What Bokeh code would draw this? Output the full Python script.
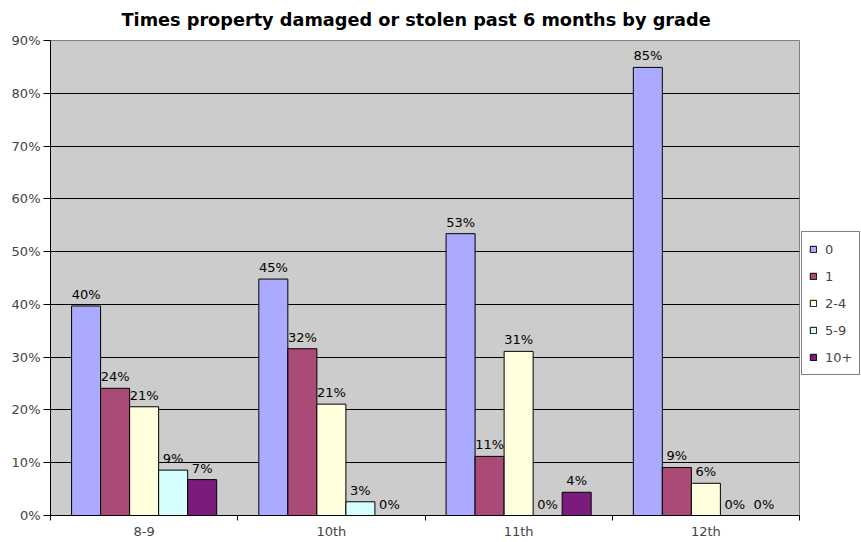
from bokeh.plotting import figure
from bokeh.models import (Range1d, FixedTicker, PrintfTickFormatter, Legend,
                          LegendItem, ColumnDataSource)
from bokeh.embed import file_html
from bokeh.resources import INLINE
from bokeh.core.properties import value

grades = ["8-9", "10th", "11th", "12th"]
series = ["0", "1", "2-4", "5-9", "10+"]
v0 = [39.7, 44.8, 53.4, 84.9]
v1 = [24.1, 31.6, 11.2, 9.1]
v2 = [20.6, 21.1, 31.1, 6.1]
v3 = [8.6, 2.6, 0.0, 0.0]
v4 = [6.8, 0.0, 4.4, 0.0]
values = [v0, v1, v2, v3, v4]
colors = ["#AAAAFF", "#AA4A77", "#FFFFDD", "#D5FFFF", "#7B1B7B"]
yticks = [0, 10, 20, 30, 40, 50, 60, 70, 80, 90]

FONT = "DejaVu Sans"
BW = 0.155

p = figure(frame_width=749, frame_height=475, output_backend="svg",
           toolbar_location=None, x_range=Range1d(0, len(grades)),
           y_range=Range1d(0, 90), min_border_left=50, min_border_right=62,
           min_border_top=40, min_border_bottom=26)
p.title.text = "Times property damaged or stolen past 6 months by grade"
p.title.align = "left"
p.title.offset = 71
p.title.vertical_align = "top"
p.title.standoff = 18
p.title.text_font = FONT
p.title.text_font_size = "17.7px"
p.title.text_font_style = "bold"
p.title.text_color = "#000000"

p.background_fill_color = "#CCCCCC"
p.border_fill_color = "white"
p.outline_line_color = "#808080"

items = []
for k, (name, vals, col) in enumerate(zip(series, values, colors)):
    xs = [i + 0.5 + (k - 2) * BW for i in range(len(grades))]
    src = ColumnDataSource(dict(x=xs, top=vals,
                                lab=[f"{v:.0f}%" for v in vals]))
    r = p.vbar(x="x", top="top", width=BW, source=src, fill_color=col,
               line_color="#000000", line_width=1)
    p.text(x="x", y="top", text="lab", source=src, text_align="center",
           text_baseline="bottom", y_offset=-4, text_font=value(FONT),
           text_font_size="13px", text_color="#000000")
    items.append(LegendItem(label=name, renderers=[r]))

legend = Legend(items=items, location=(2, 140), orientation="vertical",
                label_text_font=FONT, label_text_font_size="13px",
                glyph_width=8, glyph_height=8, label_height=20, spacing=7,
                padding=7, margin=0, label_width=27, label_standoff=8,
                border_line_color="#000000", background_fill_color="white",
                background_fill_alpha=1)
p.add_layout(legend, "right")

p.yaxis.ticker = FixedTicker(ticks=yticks)
p.yaxis.formatter = PrintfTickFormatter(format="%d%%")
p.yaxis.major_label_text_font = FONT
p.yaxis.major_label_text_font_size = "13px"
p.yaxis.major_tick_out = 7
p.yaxis.major_tick_in = 0
p.yaxis.major_label_standoff = 3
p.yaxis.minor_tick_line_color = None
p.yaxis.axis_line_color = "#000000"

p.xaxis.ticker = FixedTicker(ticks=[i + 0.5 for i in range(len(grades))],
                             minor_ticks=list(range(len(grades) + 1)))
p.xaxis.major_label_overrides = {i + 0.5: g for i, g in enumerate(grades)}
p.xaxis.major_label_text_font = FONT
p.xaxis.major_label_text_font_size = "13px"
p.xaxis.major_tick_line_color = None
p.xaxis.major_tick_out = 0
p.xaxis.major_tick_in = 0
p.xaxis.major_label_standoff = 3
p.xaxis.minor_tick_out = 5
p.xaxis.minor_tick_in = 0
p.xaxis.minor_tick_line_color = "#000000"
p.xaxis.axis_line_color = "#000000"

p.xgrid.visible = False
p.ygrid.grid_line_color = "#000000"
p.ygrid.grid_line_width = 1

open("out.html", "w").write(file_html(p, INLINE))
